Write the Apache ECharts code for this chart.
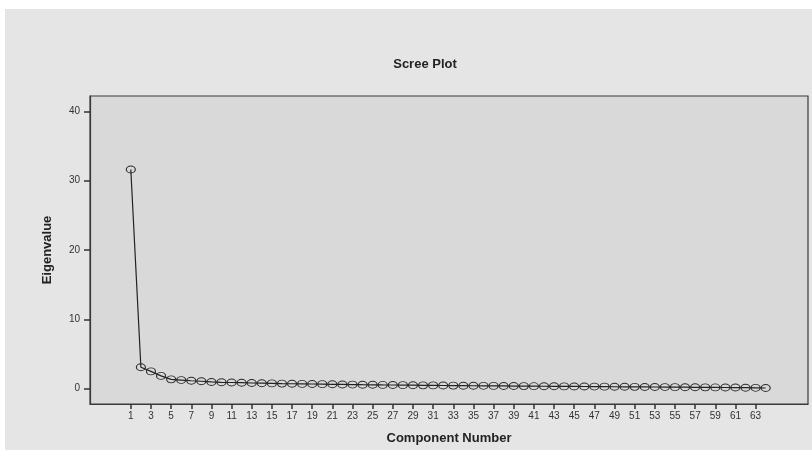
<!DOCTYPE html>
<html>
<head>
<meta charset="utf-8">
<script src="https://cdn.jsdelivr.net/npm/echarts@6/dist/echarts.min.js"></script>
<style>
html,body{margin:0;padding:0;background:#fff;}
#chart{width:812px;height:450px;}
</style>
</head>
<body>
<div id="chart"></div>
<script>
const components = [];
for (let i = 1; i <= 64; i++) components.push(i);
const eigenvalues = [
  31.6, 3.1, 2.5, 1.85, 1.35, 1.25, 1.15, 1.08, 0.98, 0.93,
  0.90, 0.87, 0.83, 0.80, 0.77, 0.74, 0.72, 0.70, 0.68, 0.66,
  0.64, 0.62, 0.60, 0.58, 0.57, 0.55, 0.54, 0.52, 0.51, 0.49,
  0.48, 0.47, 0.45, 0.44, 0.43, 0.42, 0.41, 0.40, 0.39, 0.38,
  0.37, 0.36, 0.35, 0.34, 0.33, 0.32, 0.31, 0.30, 0.29, 0.28,
  0.27, 0.26, 0.25, 0.24, 0.23, 0.22, 0.21, 0.20, 0.19, 0.18,
  0.17, 0.15, 0.13, 0.11
];
const xTickLabels = [1,3,5,7,9,11,13,15,17,19,21,23,25,27,29,31,33,35,37,39,41,43,45,47,49,51,53,55,57,59,61,63];
const yTickLabels = [0,10,20,30,40];

const chart = echarts.init(document.getElementById('chart'), null, {renderer:'canvas'});
chart.setOption({
  backgroundColor: '#ffffff',
  animation: false,
  graphic: [{
    type: 'rect', left: 5, top: 9, z: -10,
    shape: {width: 807, height: 441},
    style: {fill: '#e5e5e5'}
  }],
  title: {
    text: 'Scree Plot',
    left: 420, top: 53, textAlign: 'center',
    textStyle: {fontFamily: 'Liberation Sans, Arial, sans-serif', fontSize: 13, fontWeight: 'bold', color: '#222'}
  },
  grid: {
    left: 90, top: 96, right: 4, bottom: 46,
    show: true, backgroundColor: '#d9d9d9', borderColor: '#3a3a3a', borderWidth: 1.2
  },
  xAxis: {
    type: 'value', min: -3.05, max: 68.2,
    name: 'Component Number', nameLocation: 'middle', nameGap: 28,
    nameTextStyle: {fontFamily: 'Liberation Sans, Arial, sans-serif', fontSize: 13, fontWeight: 'bold', color: '#222'},
    axisLine: {show: true, onZero: false, lineStyle: {color: '#3a3a3a', width: 1.2}},
    axisTick: {show: true, customValues: xTickLabels, length: 5, lineStyle: {color: '#333', width: 1.5}},
    axisLabel: {customValues: xTickLabels, fontSize: 10, margin: 7, color: '#333', fontFamily: 'Liberation Sans, Arial, sans-serif'},
    splitLine: {show: false}
  },
  yAxis: {
    type: 'value', min: -2.2, max: 42.2,
    name: 'Eigenvalue', nameLocation: 'middle', nameGap: 36, nameRotate: 90,
    nameTextStyle: {fontFamily: 'Liberation Sans Narrow, Liberation Sans, Arial, sans-serif', fontSize: 13, fontWeight: 'bold', color: '#222'},
    axisLine: {show: true, onZero: false, lineStyle: {color: '#3a3a3a', width: 1.2}},
    axisTick: {show: true, customValues: yTickLabels, length: 6, lineStyle: {color: '#333', width: 1.5}},
    axisLabel: {customValues: yTickLabels, fontSize: 10, margin: 10, color: '#333', fontFamily: 'Liberation Sans, Arial, sans-serif'},
    splitLine: {show: false}
  },
  series: [{
    type: 'line',
    data: components.map((c, i) => [c, eigenvalues[i]]),
    symbol: 'circle',
    symbolSize: [9, 7],
    showAllSymbol: true,
    lineStyle: {color: '#222', width: 1.2},
    itemStyle: {color: 'rgba(0,0,0,0)', borderColor: '#2a2a2a', borderWidth: 1}
  }]
});
</script>
</body>
</html>
